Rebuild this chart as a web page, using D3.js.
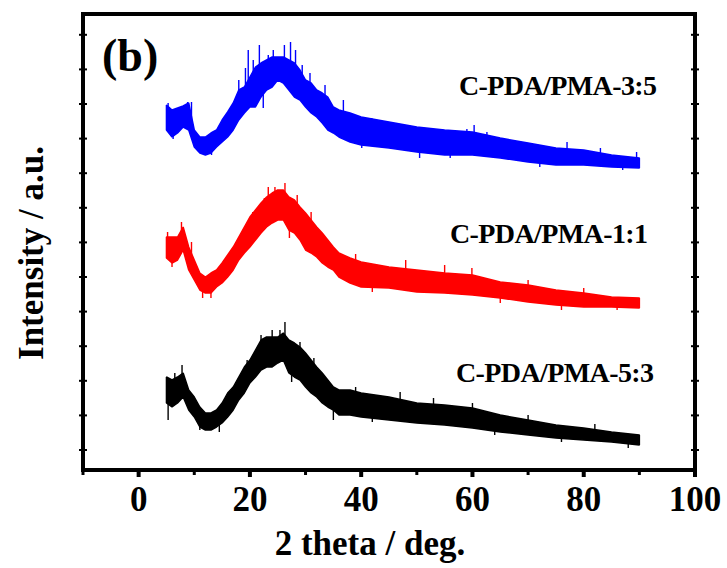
<!DOCTYPE html>
<html><head><meta charset="utf-8">
<script src="https://cdn.jsdelivr.net/npm/d3@7"></script>
<style>
html,body{margin:0;padding:0;background:#fff;}
svg{display:block;}
text{font-family:"Liberation Serif","Times New Roman",serif;font-weight:bold;fill:#000;}
</style></head>
<body>
<svg id="chart" width="727" height="568"></svg>
<script>
// 2θ sample positions (deg.)
const twoTheta = [5,6,7,8,9,10,11,12,13,14,15,16,17,18,19,20,21,22,23,24,25,26,27,28,29,30,31,32,33,34,35,36,38,40,45,50,55,60,65,70,75,80,85,90];
// upper / lower edges of each noisy trace (a.u., offset stacked)
const blueHi = [365,360,362,364,367,340,333,333,337,340,350,358,367,380,383,393,403,407,410,413,413,413,410,407,400,390,387,380,377,373,363,360,357,353,348,343,340,338,332,327,322,320,315,312];
const blueLo = [340,333,337,343,340,323,317,315,317,323,328,333,340,350,357,363,363,373,380,383,390,387,380,373,370,363,357,353,347,340,337,333,328,325,322,318,315,315,312,308,305,305,303,302];
const redHi  = [233,233,233,243,223,210,197,193,197,200,207,215,223,233,243,253,260,267,273,277,280,280,273,270,263,257,250,243,237,230,223,217,212,208,203,200,197,195,188,185,180,177,173,172];
const redLo  = [212,207,210,220,200,190,180,177,177,183,187,193,200,210,217,223,230,237,243,247,250,250,240,237,230,220,217,213,207,203,200,193,187,183,182,178,177,175,172,168,165,163,163,162];
const blackHi= [93,90,93,97,80,73,63,57,57,60,67,77,83,93,103,110,120,130,133,133,133,137,130,127,123,117,110,103,97,90,83,80,80,77,73,67,65,62,55,50,45,42,38,35];
const blackLo= [67,63,67,73,60,53,43,40,40,43,47,53,60,70,77,87,93,100,103,103,107,110,97,93,90,83,77,73,67,63,60,55,55,53,50,47,45,42,38,35,32,30,28,25];
// isolated noise spikes [2θ, tip value]
const blueSpikes  = [[5.3,367],[6.2,331],[8.8,368],[9.5,368],[13.1,315],[16.6,362],[17.6,372],[18.0,390],[19.2,402],[19.7,420],[20.6,410],[21.7,425],[22.4,362],[23.3,415],[24.2,420],[25.1,412],[26.2,425],[27.3,428],[28.2,420],[29.4,405],[30.8,397],[33.5,385],[36.8,370],[40.1,322],[41.9,352],[46.4,347],[50.5,312],[56,312],[59,341],[60.3,345],[62.6,338],[72.1,303],[77,328],[83,322],[87,300],[89.5,318]];
const redSpikes   = [[5.2,238],[6.0,203],[7.7,248],[9.5,228],[11.5,172],[13,172],[17.5,228],[20.5,258],[22.6,272],[23.3,283],[24.5,283],[26.3,287],[27.1,232],[28.5,275],[31,258],[39,216],[42,178],[48,210],[55,205],[59.9,202],[65,167],[70,190],[76,160],[80,182],[86,160]];
const blackSpikes = [[5.3,50],[6.5,97],[7.8,105],[11,40],[14.5,38],[19.5,110],[22,135],[24,140],[25.4,140],[26.3,148],[27.5,88],[29,128],[31.5,112],[35,50],[39,83],[42,48],[47,78],[53,72],[60,67],[64,35],[70,55],[76,28],[82,46],[88,22]];
const labels = ["C-PDA/PMA-3:5","C-PDA/PMA-1:1","C-PDA/PMA-5:3"];
const xMajorTicks = [0,20,40,60,80,100];
const xMinorTicks = [-10,10,30,50,70,90];
const yTicks = [20,54.6,89.2,123.8,158.4,193,227.6,262.2,296.8,331.4,366,400.6,435.2];

const svg = d3.select("#chart");
const L=83, R=695, T=14, B=470;
const x = d3.scaleLinear().domain([-10,100]).range([L,R]);
const y = d3.scaleLinear().domain([0,456]).range([B,T]);

const series = [
  {hi:blueHi, lo:blueLo, spikes:blueSpikes, color:"#0000ff"},
  {hi:redHi, lo:redLo, spikes:redSpikes, color:"#ff0000"},
  {hi:blackHi, lo:blackLo, spikes:blackSpikes, color:"#000000"}
];
const area = d3.area().x(d=>x(d.t)).y0(d=>y(d.lo)).y1(d=>y(d.hi));
series.forEach(s=>{
  const pts = twoTheta.map((t,i)=>({t, hi:s.hi[i], lo:s.lo[i]}));
  svg.append("path").datum(pts).attr("d",area)
    .attr("fill",s.color).attr("stroke",s.color).attr("stroke-width",1.5).attr("stroke-linejoin","bevel");
  const mid = t=>{ const i=Math.min(twoTheta.length-1,d3.bisectLeft(twoTheta,t)); const j=Math.max(0,i-1); return (s.hi[j]+s.lo[j]+s.hi[i]+s.lo[i])/4; };
  svg.selectAll(null).data(s.spikes).enter().append("line")
    .attr("x1",d=>x(d[0])).attr("x2",d=>x(d[0]))
    .attr("y1",d=>y(mid(d[0]))).attr("y2",d=>y(d[1]))
    .attr("stroke",s.color).attr("stroke-width",1.4);
});

// frame
svg.append("rect").attr("x",L).attr("y",T).attr("width",R-L).attr("height",B-T)
  .attr("fill","none").attr("stroke","#000").attr("stroke-width",4);

// bottom axis ticks
const g = svg.append("g").attr("stroke","#000");
xMajorTicks.forEach(v=>g.append("line").attr("x1",x(v)).attr("x2",x(v)).attr("y1",B).attr("y2",B+7).attr("stroke-width",4));
xMinorTicks.forEach(v=>g.append("line").attr("x1",x(v)).attr("x2",x(v)).attr("y1",B).attr("y2",B+5).attr("stroke-width",3));
// y ticks on left and right (no labels)
yTicks.forEach(v=>{
  g.append("line").attr("x1",L-4).attr("x2",L+4).attr("y1",y(v)).attr("y2",y(v)).attr("stroke-width",2);
  g.append("line").attr("x1",R-4).attr("x2",R+4).attr("y1",y(v)).attr("y2",y(v)).attr("stroke-width",2);
});

// tick labels
svg.selectAll(null).data(xMajorTicks).enter().append("text")
  .attr("x",d=>x(d)).attr("y",511).attr("text-anchor","middle")
  .attr("font-size",35).text(d=>d);

// axis titles
svg.append("text").attr("x",370).attr("y",555).attr("text-anchor","middle")
  .attr("font-size",35).text("2 theta / deg.");
svg.append("text").attr("transform","translate(43,253) rotate(-90)").attr("text-anchor","middle")
  .attr("font-size",35).text("Intensity / a.u.");

// panel label
svg.append("text").attr("x",102).attr("y",71).attr("font-size",46).text("(b)");

// series labels
const labelPos = [[459,95],[450,243],[456,382]];
labels.forEach((t,i)=>{
  svg.append("text").attr("x",labelPos[i][0]).attr("y",labelPos[i][1])
    .attr("font-size",28).attr("letter-spacing",-0.6).text(t);
});
</script>
</body></html>
